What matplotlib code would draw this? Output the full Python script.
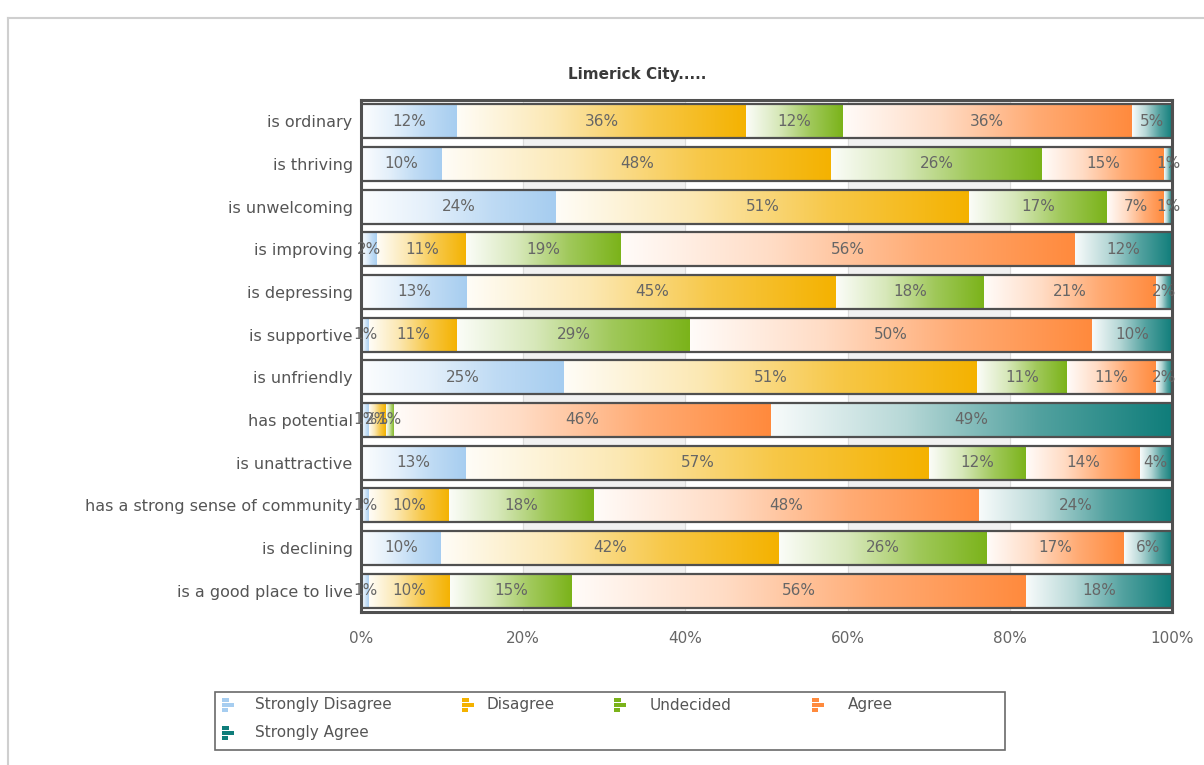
import matplotlib.pyplot as plt
import numpy as np
from matplotlib.colors import LinearSegmentedColormap, to_rgb
from matplotlib.lines import Line2D
from matplotlib.patches import Rectangle

W, H = 1204, 765

statements = [
    "is ordinary", "is thriving", "is unwelcoming", "is improving",
    "is depressing", "is supportive", "is unfriendly", "has potential",
    "is unattractive", "has a strong sense of community", "is declining",
    "is a good place to live",
]
responses = ["Strongly Disagree", "Disagree", "Undecided", "Agree", "Strongly Agree"]

strongly_disagree = [12, 10, 24, 2, 13, 1, 25, 1, 13, 1, 10, 1]
disagree = [36, 48, 51, 11, 45, 11, 51, 2, 57, 10, 42, 10]
undecided = [12, 26, 17, 19, 18, 29, 11, 1, 12, 18, 26, 15]
agree = [36, 15, 7, 56, 21, 50, 11, 46, 14, 48, 17, 56]
strongly_agree = [5, 1, 1, 12, 2, 10, 2, 49, 4, 24, 6, 18]

colors = ["#a6cdf0", "#f4b200", "#7bb31a", "#ff8a3d", "#0f7d7a"]
x_ticks = [0, 20, 40, 60, 80, 100]

series = [strongly_disagree, disagree, undecided, agree, strongly_agree]


def px(x, y):
    # pixel position (origin top-left) -> figure fraction
    return x / W, 1 - y / H


def fade(color, amount):
    r, g, b = to_rgb(color)
    return (1 - amount * (1 - r), 1 - amount * (1 - g), 1 - amount * (1 - b))


fig = plt.figure(figsize=(W / 100, H / 100), dpi=100)
fig.patch.set_facecolor("white")

x0, y0 = px(361, 612)
x1, y1 = px(1172, 100)
ax = fig.add_axes([x0, y0, x1 - x0, y1 - y0])

ypos = np.arange(len(statements))
totals = np.sum(series, axis=0)
grad = np.linspace(0, 1, 256).reshape(1, -1)

left = np.zeros(len(statements))
for name, vals, col in zip(responses, series, colors):
    share = np.array(vals) / totals * 100
    bars = ax.barh(ypos, share, left=left, height=0.8, color="none",
                   edgecolor="none", zorder=2)
    cmap = LinearSegmentedColormap.from_list(
        name, [fade(col, 0.03), fade(col, 0.3), fade(col, 0.72), col])
    for bar, v in zip(bars, vals):
        bx, by = bar.get_x(), bar.get_y()
        bw, bh = bar.get_width(), bar.get_height()
        im = ax.imshow(grad, cmap=cmap, extent=(bx, bx + bw, by, by + bh),
                       aspect="auto", interpolation="bilinear", zorder=2)
        im.set_clip_path(bar)
        ax.text(bx + bw / 2, by + bh / 2, f"{v}%", ha="center", va="center",
                fontsize=11, color="#666666", zorder=4)
    left += share

# outline around each full row
ax.barh(ypos, left, height=0.8, fill=False, edgecolor="#505050",
        linewidth=1.6, zorder=3)

# alternating background bands and grid
for a, b in [(20, 40), (60, 80)]:
    ax.axvspan(a, b, color="#f1f1f1", zorder=0)
for t in x_ticks[1:-1]:
    ax.axvline(t, color="#dcdcdc", linewidth=0.8, zorder=0.5)

ax.set_xlim(0, 100)
ax.set_ylim(len(statements) - 0.5, -0.5)
ax.set_xticks(x_ticks)
ax.set_xticklabels([f"{t}%" for t in x_ticks])
ax.set_yticks(ypos)
ax.set_yticklabels(statements)
ax.tick_params(axis="x", length=0, pad=14, labelsize=11, labelcolor="#666666")
ax.tick_params(axis="y", length=0, pad=6, labelsize=11.5, labelcolor="#555555")
for s in ax.spines.values():
    s.set_color("#505050")
    s.set_linewidth(2.2)

# title
tx, ty = px(637, 75)
fig.text(tx, ty, "Limerick City.....", ha="center", va="center",
         fontsize=11, fontweight="bold", color="#3a3a3a")

# outer panel frame
fig.add_artist(Line2D([px(8, 0)[0], px(8, 0)[0]], [px(0, 18)[1], 0],
                      transform=fig.transFigure, color="#cfcfcf", lw=1.5))
fig.add_artist(Line2D([px(8, 0)[0], 1], [px(0, 18)[1], px(0, 18)[1]],
                      transform=fig.transFigure, color="#cfcfcf", lw=1.5))

# legend
lx, ly = px(215, 750)
fig.add_artist(Rectangle((lx, ly), 790 / W, 58 / H, transform=fig.transFigure,
                         fill=False, edgecolor="#6a6a6a", linewidth=1.2))
slots = [(222, 705), (462, 705), (614, 705), (812, 705), (222, 733)]
text_dx = [33, 25, 36, 36, 33]
for name, col, (ix, iy), dx in zip(responses, colors, slots, text_dx):
    for k, bw in enumerate([7, 12, 6]):
        rx, ry = px(ix, iy - 7 + k * 5 + 4)
        fig.add_artist(Rectangle((rx, ry), bw / W, 4 / H,
                                 transform=fig.transFigure, color=col, lw=0))
    nx, ny = px(ix + dx, iy)
    fig.text(nx, ny, name, ha="left", va="center", fontsize=11, color="#555555")

fig.savefig("out.png", dpi=100)
